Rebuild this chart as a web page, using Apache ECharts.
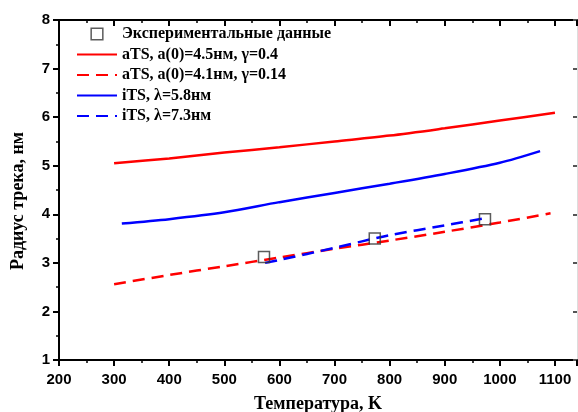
<!DOCTYPE html>
<html>
<head>
<meta charset="utf-8">
<script src="https://cdn.jsdelivr.net/npm/echarts@6/dist/echarts.min.js"></script>
<style>
  html, body { margin: 0; padding: 0; background: #fff; }
  #chart { width: 578px; height: 412px; }
</style>
</head>
<body>
<div id="chart"></div>
<script>
// Track radius vs. temperature: experiment and model curves
const expTemp = [572, 773, 973];
const expRadius = [3.12, 3.50, 3.90];

const aTS1Temp = [300, 400, 500, 600, 700, 800, 900, 1000, 1100];
const aTS1Radius = [5.05, 5.15, 5.27, 5.38, 5.50, 5.62, 5.77, 5.93, 6.09];

const aTS2Temp = [300, 400, 500, 600, 700, 800, 900, 1000, 1092];
const aTS2Radius = [2.56, 2.75, 2.93, 3.11, 3.29, 3.46, 3.64, 3.83, 4.02];

const iTS1Temp = [314, 400, 500, 600, 700, 800, 900, 1000, 1073];
const iTS1Radius = [3.81, 3.90, 4.04, 4.25, 4.44, 4.63, 4.83, 5.06, 5.30];

const iTS2Temp = [574, 600, 700, 800, 900, 973];
const iTS2Radius = [3.00, 3.06, 3.31, 3.57, 3.77, 3.92];

const seriesNames = [
  'Экспериментальные данные',
  'aTS, a(0)=4.5нм, γ=0.4',
  'aTS, a(0)=4.1нм, γ=0.14',
  'iTS, λ=5.8нм',
  'iTS, λ=7.3нм'
];

const xTicks = [200, 300, 400, 500, 600, 700, 800, 900, 1000, 1100];
const yTicks = [1, 2, 3, 4, 5, 6, 7, 8];

const zip = (xs, ys) => xs.map((x, i) => [x, ys[i]]);

const serif = 'Liberation Serif';
const sans = 'Liberation Sans';

const chart = echarts.init(document.getElementById('chart'), null, { renderer: 'canvas' });

const baseX = {
  type: 'value',
  min: xTicks[0],
  max: 1140,
  interval: 100,
  splitLine: { show: false },
  axisLine: { show: true, onZero: false, lineStyle: { color: '#000', width: 2 } },
  minorTick: { show: true, splitNumber: 2, length: 3, lineStyle: { color: '#000', width: 1.5 } },
  axisTick: { show: true, length: 6, lineStyle: { color: '#000', width: 2 } }
};
const baseY = {
  type: 'value',
  min: yTicks[0],
  max: yTicks[yTicks.length - 1],
  interval: 1,
  splitLine: { show: false },
  axisLine: { show: true, onZero: false, lineStyle: { color: '#000', width: 2 } },
  minorTick: { show: true, splitNumber: 2, length: 3, lineStyle: { color: '#000', width: 1.5 } },
  axisTick: { show: true, length: 6, lineStyle: { color: '#000', width: 2 } }
};

const lineSeries = (name, data, color, type) => ({
  name,
  type: 'line',
  data,
  showSymbol: false,
  symbol: 'none',
  smooth: 0.3,
  lineStyle: { color, width: 2.5, type },
  itemStyle: { color },
  z: 3
});

// open square used for the measured points in the legend
const squareIcon = 'path://M-1,-1M11,11M0,0L10,0L10,10L0,10Z';

chart.setOption({
  animation: false,
  backgroundColor: '#fff',
  grid: { left: 59, top: 20, width: 518, height: 340, containLabel: false, outerBoundsMode: 'none' },
  legend: {
    orient: 'vertical',
    left: 76,
    top: 26,
    padding: 0,
    itemWidth: 40,
    itemHeight: 14,
    itemGap: 4.5,
    selectedMode: false,
    textStyle: { fontFamily: serif, fontWeight: 'bold', fontSize: 16, color: '#000' },
    data: [
      { name: seriesNames[0], icon: squareIcon,
        itemStyle: { color: 'rgba(255,255,255,0)', borderColor: '#333', borderWidth: 1.5 } },
      { name: seriesNames[1], itemStyle: { opacity: 0 } },
      { name: seriesNames[2], itemStyle: { opacity: 0 } },
      { name: seriesNames[3], itemStyle: { opacity: 0 } },
      { name: seriesNames[4], itemStyle: { opacity: 0 } }
    ]
  },
  xAxis: [
    Object.assign({}, baseX, {
      position: 'bottom',
      name: 'Температура, K',
      nameLocation: 'middle',
      nameGap: 35,
      nameTextStyle: { fontFamily: serif, fontWeight: 'bold', fontSize: 18, color: '#000' },
      axisLabel: { fontFamily: sans, fontWeight: 'bold', fontSize: 15, color: '#000', margin: 12,
        formatter: v => (xTicks.includes(v) ? String(v) : '') }
    }),
    Object.assign({}, baseX, {
      position: 'top',
      axisLabel: { show: false },
      axisTick: { show: true, inside: true, length: 6, lineStyle: { color: '#000', width: 2 } },
      minorTick: { show: true, splitNumber: 2, length: 3, lineStyle: { color: '#000', width: 1.5 } }
    })
  ],
  yAxis: [
    Object.assign({}, baseY, {
      position: 'left',
      axisLabel: { fontFamily: sans, fontWeight: 'bold', fontSize: 15, color: '#000', margin: 9 }
    }),
    Object.assign({}, baseY, {
      position: 'right',
      axisLine: { show: true, onZero: false, lineStyle: { color: '#ddd', width: 1 } },
      axisLabel: { show: false },
      axisTick: { show: true, inside: true, length: 4, lineStyle: { color: '#555', width: 2 } },
      minorTick: { show: false }
    })
  ],
  series: [
    {
      name: seriesNames[0],
      type: 'scatter',
      data: zip(expTemp, expRadius),
      symbol: 'rect',
      symbolSize: 11,
      itemStyle: { color: 'rgba(255,255,255,0)', borderColor: '#333', borderWidth: 1.5 },
      z: 5
    },
    lineSeries(seriesNames[1], zip(aTS1Temp, aTS1Radius), '#ff0000', 'solid'),
    lineSeries(seriesNames[2], zip(aTS2Temp, aTS2Radius), '#ff0000', [12, 7]),
    lineSeries(seriesNames[3], zip(iTS1Temp, iTS1Radius), '#0000ff', 'solid'),
    lineSeries(seriesNames[4], zip(iTS2Temp, iTS2Radius), '#0000ff', [12, 7])
  ],
  graphic: [
    {
      type: 'text',
      x: 18,
      y: 201,
      rotation: Math.PI / 2,
      style: {
        text: 'Радиус трека, нм',
        fontFamily: serif,
        fontWeight: 'bold',
        fontSize: 18,
        fill: '#000',
        align: 'center',
        verticalAlign: 'middle'
      }
    }
  ]
});
</script>
</body>
</html>
